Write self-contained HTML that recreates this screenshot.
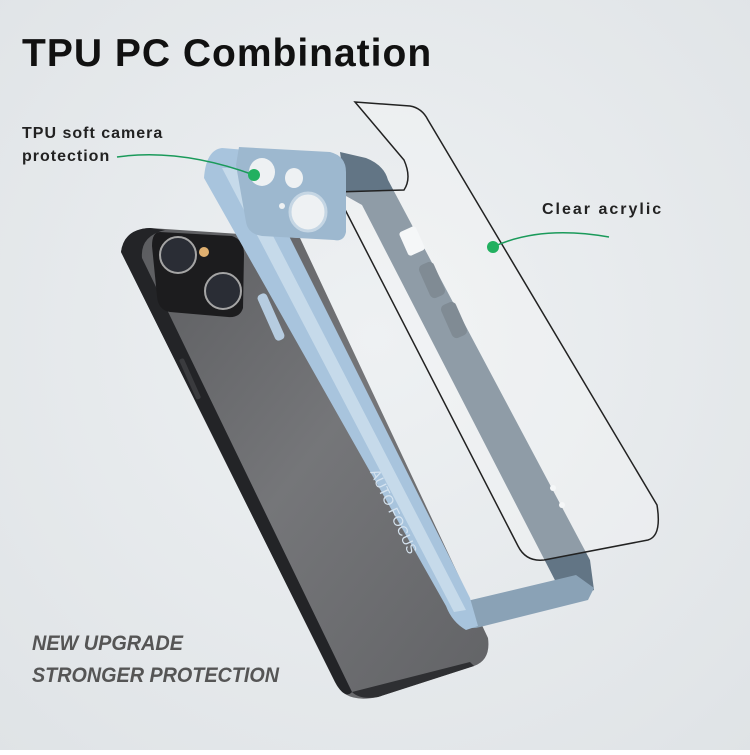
<!DOCTYPE html>
<html><head><meta charset="utf-8"><style>
html,body{margin:0;padding:0}
body{width:750px;height:750px;overflow:hidden;font-family:"Liberation Sans",sans-serif;}
</style></head><body>
<svg width="750" height="750" viewBox="0 0 750 750" xmlns="http://www.w3.org/2000/svg">
<defs>
<radialGradient id="bg" cx="0.5" cy="0.45" r="0.75">
<stop offset="0" stop-color="#eef1f3"/><stop offset="1" stop-color="#dfe3e6"/>
</radialGradient>
<linearGradient id="ph" x1="0" y1="0" x2="1" y2="1">
<stop offset="0" stop-color="#5a5b5e"/><stop offset="0.5" stop-color="#757679"/><stop offset="1" stop-color="#626366"/>
</linearGradient>
</defs>
<rect width="750" height="750" fill="url(#bg)"/>
<text x="22" y="66" font-size="39" font-weight="bold" fill="#111" letter-spacing="1">TPU PC Combination</text>
<!-- phone -->
<path d="M121,252 Q124,229 150,228 L300,238 L488,638 Q491,660 474,666 L378,697 Q345,704 335,682 Z" fill="url(#ph)"/>
<path d="M121,252 Q124,229 150,228 L165,230 Q140,236 142,258 L352,692 Q345,700 335,682 Z" fill="#232427"/>
<path d="M352,692 L470,662 L474,666 L378,697 Q360,700 352,692 Z" fill="#2e2f32"/>
<rect x="188" y="357" width="5" height="44" rx="2" fill="#3a3b3e" transform="rotate(-24 190 380)"/>
<!-- camera island on phone -->
<path d="M160,232 L232,236 Q244,240 244,254 L243,308 Q240,318 228,317 L170,312 Q158,310 157,296 L152,246 Q152,232 160,232 Z" fill="#1c1c1e"/>
<circle cx="178" cy="255" r="18" fill="#2a2d35" stroke="#a5a5a5" stroke-width="2"/>
<circle cx="223" cy="291" r="18" fill="#2a2d35" stroke="#a5a5a5" stroke-width="2"/>
<circle cx="204" cy="252" r="5" fill="#e0b070"/>
<!-- case right rail (dark) -->
<path d="M340,152 L366,158 Q384,165 388,180 L590,560 L594,590 L576,598 L560,590 L362,205 L346,196 Z" fill="#627585"/>
<rect x="403" y="228" width="18" height="26" rx="3" fill="#f4f6f8" transform="rotate(-24 412 241)"/>
<rect x="424" y="262" width="16" height="36" rx="5" fill="#4c5c69" transform="rotate(-24 432 280)"/>
<rect x="446" y="302" width="16" height="36" rx="5" fill="#4c5c69" transform="rotate(-24 454 320)"/>
<circle cx="553" cy="488" r="3" fill="#f4f6f8"/>
<circle cx="562" cy="505" r="3" fill="#f4f6f8"/>
<!-- acrylic sheet -->
<path d="M355,102 L410,106 Q422,108 428,120 L657,505 Q662,536 648,540 L544,560 Q526,562 518,546 L336,192 L404,190 Q412,178 404,160 Z" fill="#f7f8f9" fill-opacity="0.3" stroke="#222" stroke-width="1.5"/>
<!-- case bottom -->
<path d="M450,605 L576,575 L594,588 L588,600 L476,628 L464,628 Z" fill="#8aa2b6"/>
<!-- case left rail (light blue) -->
<path d="M204,178 Q206,150 222,148 L246,150 L470,598 L478,626 L466,630 Q452,622 446,606 Z" fill="#a8c4dd"/>
<path d="M222,168 L238,168 L466,610 L454,612 Z" fill="#c6daea"/>
<!-- camera island -->
<path d="M239,147 L330,152 Q346,156 346,172 L346,232 Q344,242 334,240 L262,236 Q248,234 246,222 L236,165 Z" fill="#9db8cf"/>
<ellipse cx="262" cy="172" rx="13" ry="14" fill="#eef1f3"/>
<ellipse cx="294" cy="178" rx="9" ry="10" fill="#eef1f3"/>
<ellipse cx="308" cy="212" rx="18" ry="19" fill="#eef1f3" stroke="#c5d6e4" stroke-width="3"/>
<circle cx="282" cy="206" r="3" fill="#eef1f3"/>
<rect x="266" y="292" width="10" height="50" rx="4" fill="#b6cce0" transform="rotate(-24 271 317)"/>
<text x="0" y="0" font-size="14" fill="#d6e4f0" transform="translate(370,472) rotate(65)">AUTO FOCUS</text>
<!-- labels -->
<text x="22" y="138" font-size="16" font-weight="bold" fill="#222" letter-spacing="1">TPU soft camera</text>
<text x="22" y="161" font-size="16" font-weight="bold" fill="#222" letter-spacing="1">protection</text>
<path d="M117,157 Q180,148 254,175" fill="none" stroke="#1a9a5a" stroke-width="1.5"/>
<circle cx="254" cy="175" r="6" fill="#22b060"/>
<text x="542" y="214" font-size="16" font-weight="bold" fill="#222" letter-spacing="2">Clear acrylic</text>
<path d="M609,237 Q540,225 493,247" fill="none" stroke="#1a9a5a" stroke-width="1.5"/>
<circle cx="493" cy="247" r="6" fill="#22b060"/>
<text x="32" y="650" font-size="21" font-weight="bold" font-style="italic" fill="#555" textLength="151" lengthAdjust="spacingAndGlyphs">NEW UPGRADE</text>
<text x="32" y="682" font-size="21" font-weight="bold" font-style="italic" fill="#555" textLength="247" lengthAdjust="spacingAndGlyphs">STRONGER PROTECTION</text>
</svg>
</body></html>
